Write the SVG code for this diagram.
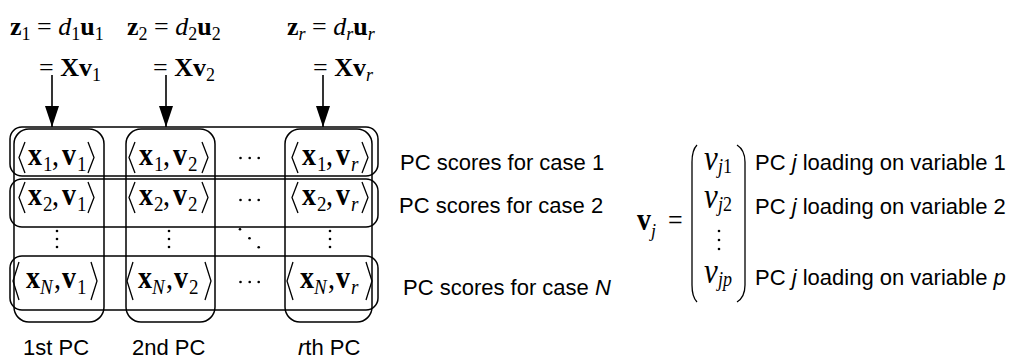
<svg xmlns="http://www.w3.org/2000/svg" width="1021" height="358" viewBox="0 0 1021 358">
<style>
.m{font-family:"Liberation Serif","Times New Roman",serif;fill:#000}
.b{font-weight:bold}
.i{font-style:italic}
.s{font-size:18px}
.ss{font-size:19px}
.lbl{font-family:"Liberation Sans",Arial,sans-serif;font-size:22px;fill:#000}
.box{fill:none;stroke:#000;stroke-width:1.5}
.br{fill:none;stroke:#000;stroke-width:1.3;stroke-linejoin:miter}
.dot{fill:#000}
.conn{stroke:#000;stroke-width:1.6;fill:none}
</style>
<defs>
<marker id="ah" markerUnits="userSpaceOnUse" markerWidth="22" markerHeight="16" refX="21" refY="8" orient="auto" viewBox="0 0 22 16">
<path d="M0,1 L21,8 L0,15 Z" fill="#000"/>
</marker>
</defs>

<g id="headers" class="m" font-size="26">
<text x="10" y="35"><tspan class="b">z</tspan><tspan class="s" dy="5">1</tspan><tspan dy="-5"> = </tspan><tspan class="i">d</tspan><tspan class="s" dy="5">1</tspan><tspan class="b" dy="-5">u</tspan><tspan class="s" dy="5">1</tspan></text>
<text x="39" y="76">= <tspan class="b">Xv</tspan><tspan class="s" dy="5">1</tspan></text>
<text x="127" y="35"><tspan class="b">z</tspan><tspan class="s" dy="5">2</tspan><tspan dy="-5"> = </tspan><tspan class="i">d</tspan><tspan class="s" dy="5">2</tspan><tspan class="b" dy="-5">u</tspan><tspan class="s" dy="5">2</tspan></text>
<text x="153" y="76">= <tspan class="b">Xv</tspan><tspan class="s" dy="5">2</tspan></text>
<text x="287" y="35"><tspan class="b">z</tspan><tspan class="s i" dy="5">r</tspan><tspan dy="-5"> = </tspan><tspan class="i">d</tspan><tspan class="s i" dy="5">r</tspan><tspan class="b" dy="-5">u</tspan><tspan class="s i" dy="5">r</tspan></text>
<text x="313" y="76">= <tspan class="b">Xv</tspan><tspan class="s i" dy="5">r</tspan></text>
</g>

<g id="connectors">
<line class="conn" x1="52" y1="75" x2="52" y2="127" marker-end="url(#ah)"/>
<line class="conn" x1="166" y1="75" x2="166" y2="127" marker-end="url(#ah)"/>
<line class="conn" x1="323" y1="75" x2="323" y2="127" marker-end="url(#ah)"/>
</g>

<g id="pc-columns">
<rect id="col1" class="box" x="14" y="129" width="90" height="193" rx="15"/>
<rect id="col2" class="box" x="126" y="129" width="89" height="193" rx="15"/>
<rect id="colr" class="box" x="285" y="129" width="87" height="193" rx="15"/>
</g>

<g id="case-rows">
<rect id="row1" class="box" x="10" y="127" width="368" height="49" rx="12"/>
<rect id="row2" class="box" x="10" y="179" width="368" height="48" rx="12"/>
<rect id="rowN" class="box" x="10" y="256" width="368" height="54" rx="12"/>
</g>

<g id="cells" class="m" font-size="28">
<!-- row 1 -->
<g id="c11"><polyline class="br" points="25,142 19,157.5 25,173"/><polyline class="br" points="88,142 94,157.5 88,173"/>
<text transform="translate(0,165) scale(1,1.15)"><tspan x="28" class="b">x</tspan><tspan x="43" class="ss" dy="5">1</tspan><tspan x="52" dy="-5">,</tspan><tspan x="62" class="b">v</tspan><tspan x="77" class="ss" dy="5">1</tspan></text></g>
<g id="c12"><polyline class="br" points="135,142 129,157.5 135,173"/><polyline class="br" points="202,142 208,157.5 202,173"/>
<text transform="translate(0,165) scale(1,1.15)"><tspan x="139" class="b">x</tspan><tspan x="154" class="ss" dy="5">1</tspan><tspan x="163" dy="-5">,</tspan><tspan x="173" class="b">v</tspan><tspan x="188" class="ss" dy="5">2</tspan></text></g>
<g id="c1r"><polyline class="br" points="298,142 292,157.5 298,173"/><polyline class="br" points="362,142 368,157.5 362,173"/>
<text transform="translate(0,165) scale(1,1.15)"><tspan x="302" class="b">x</tspan><tspan x="317" class="ss" dy="5">1</tspan><tspan x="326" dy="-5">,</tspan><tspan x="336" class="b">v</tspan><tspan x="351" class="ss i" dy="5">r</tspan></text></g>
<!-- row 2 -->
<g id="c21"><polyline class="br" points="25,182 19,197.5 25,213"/><polyline class="br" points="88,182 94,197.5 88,213"/>
<text transform="translate(0,205) scale(1,1.15)"><tspan x="28" class="b">x</tspan><tspan x="43" class="ss" dy="5">2</tspan><tspan x="52" dy="-5">,</tspan><tspan x="62" class="b">v</tspan><tspan x="77" class="ss" dy="5">1</tspan></text></g>
<g id="c22"><polyline class="br" points="135,182 129,197.5 135,213"/><polyline class="br" points="202,182 208,197.5 202,213"/>
<text transform="translate(0,205) scale(1,1.15)"><tspan x="139" class="b">x</tspan><tspan x="154" class="ss" dy="5">2</tspan><tspan x="163" dy="-5">,</tspan><tspan x="173" class="b">v</tspan><tspan x="188" class="ss" dy="5">2</tspan></text></g>
<g id="c2r"><polyline class="br" points="298,182 292,197.5 298,213"/><polyline class="br" points="362,182 368,197.5 362,213"/>
<text transform="translate(0,205) scale(1,1.15)"><tspan x="302" class="b">x</tspan><tspan x="317" class="ss" dy="5">2</tspan><tspan x="326" dy="-5">,</tspan><tspan x="336" class="b">v</tspan><tspan x="351" class="ss i" dy="5">r</tspan></text></g>
<!-- row N -->
<g id="cN1"><polyline class="br" points="19,262 13,281 19,300"/><polyline class="br" points="91,262 97,281 91,300"/>
<text transform="translate(0,288) scale(1,1.15)"><tspan x="26" class="b">x</tspan><tspan x="40" class="ss i" dy="5">N</tspan><tspan x="54" dy="-5">,</tspan><tspan x="62" class="b">v</tspan><tspan x="77" class="ss" dy="5">1</tspan></text></g>
<g id="cN2"><polyline class="br" points="133,262 127,281 133,300"/><polyline class="br" points="205,262 211,281 205,300"/>
<text transform="translate(0,288) scale(1,1.15)"><tspan x="138" class="b">x</tspan><tspan x="152" class="ss i" dy="5">N</tspan><tspan x="166" dy="-5">,</tspan><tspan x="174" class="b">v</tspan><tspan x="189" class="ss" dy="5">2</tspan></text></g>
<g id="cNr"><polyline class="br" points="293,262 287,281 293,300"/><polyline class="br" points="366,262 372,281 366,300"/>
<text transform="translate(0,288) scale(1,1.15)"><tspan x="300" class="b">x</tspan><tspan x="314" class="ss i" dy="5">N</tspan><tspan x="328" dy="-5">,</tspan><tspan x="336" class="b">v</tspan><tspan x="351" class="ss i" dy="5">r</tspan></text></g>
</g>

<g id="ellipses" class="dot">
<circle cx="240.5" cy="158" r="1.3"/><circle cx="249.7" cy="158" r="1.3"/><circle cx="258.7" cy="158" r="1.3"/>
<circle cx="240.5" cy="200" r="1.3"/><circle cx="249.7" cy="200" r="1.3"/><circle cx="258.7" cy="200" r="1.3"/>
<circle cx="240.5" cy="282" r="1.3"/><circle cx="249.7" cy="282" r="1.3"/><circle cx="258.7" cy="282" r="1.3"/>
<circle cx="57" cy="231" r="1.3"/><circle cx="57" cy="239" r="1.3"/><circle cx="57" cy="247" r="1.3"/>
<circle cx="169" cy="231" r="1.3"/><circle cx="169" cy="239" r="1.3"/><circle cx="169" cy="247" r="1.3"/>
<circle cx="330" cy="231" r="1.3"/><circle cx="330" cy="239" r="1.3"/><circle cx="330" cy="247" r="1.3"/>
<circle cx="240" cy="229.3" r="1.3"/><circle cx="249.5" cy="238.3" r="1.3"/><circle cx="258.7" cy="247.3" r="1.3"/>
</g>

<g id="row-labels" class="lbl">
<text x="400" y="170">PC scores for case 1</text>
<text x="399" y="213">PC scores for case 2</text>
<text x="403" y="295">PC scores for case <tspan font-style="italic">N</tspan></text>
</g>

<g id="col-labels" class="lbl">
<text x="23" y="355">1st PC</text>
<text x="132" y="355">2nd PC</text>
<text x="298" y="355"><tspan font-style="italic">r</tspan>th PC</text>
</g>

<g id="loading-vector" class="m" font-size="28">
<text transform="translate(0,230) scale(1,1.1)"><tspan x="637" class="b">v</tspan><tspan x="651" class="s i" dy="6">j</tspan><tspan x="668" dy="-6" font-size="26">=</tspan></text>
<path class="br" d="M697,145 Q692,150 692,162 L692,285 Q692,297 697,302"/>
<path class="br" d="M737,145 Q745,150 745,162 L745,285 Q745,297 737,302"/>
<text transform="translate(0,170) scale(1,1.15)"><tspan x="704" class="i" font-size="31">v</tspan><tspan x="718" class="s" dy="3"><tspan class="i">j</tspan>1</tspan></text>
<text transform="translate(0,208) scale(1,1.15)"><tspan x="704" class="i" font-size="31">v</tspan><tspan x="718" class="s" dy="3"><tspan class="i">j</tspan>2</tspan></text>
<circle class="dot" cx="719" cy="231" r="1.3"/><circle class="dot" cx="719" cy="240" r="1.3"/><circle class="dot" cx="719" cy="249" r="1.3"/>
<text transform="translate(0,283) scale(1,1.15)"><tspan x="704" class="i" font-size="31">v</tspan><tspan x="718" class="s i" dy="3">jp</tspan></text>
</g>

<g id="loading-labels" class="lbl">
<text x="755" y="170">PC <tspan font-style="italic">j</tspan> loading on variable 1</text>
<text x="755" y="214">PC <tspan font-style="italic">j</tspan> loading on variable 2</text>
<text x="755" y="285">PC <tspan font-style="italic">j</tspan> loading on variable <tspan font-style="italic">p</tspan></text>
</g>
</svg>
